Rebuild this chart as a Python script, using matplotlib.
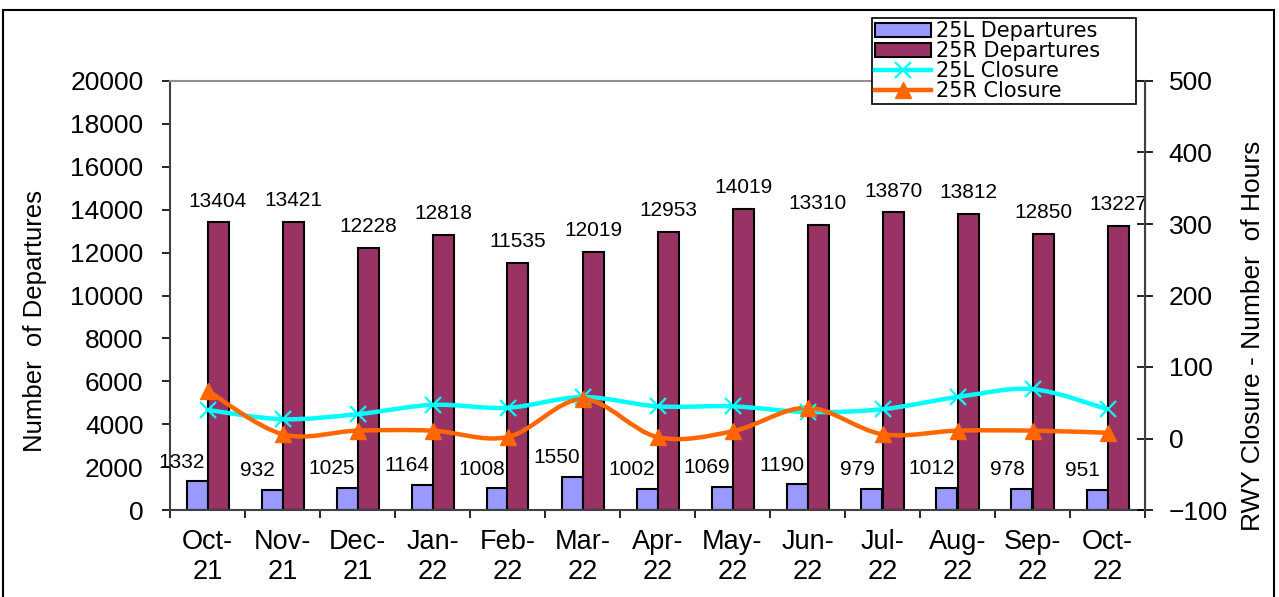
import matplotlib
matplotlib.use("Agg")
import matplotlib.pyplot as plt
import numpy as np
from matplotlib.path import Path
from matplotlib.patches import PathPatch, Patch, Rectangle
from matplotlib.lines import Line2D

plt.rcParams["font.family"] = ["Liberation Sans", "DejaVu Sans"]

months = ["Oct-\n21", "Nov-\n21", "Dec-\n21", "Jan-\n22", "Feb-\n22", "Mar-\n22", "Apr-\n22",
          "May-\n22", "Jun-\n22", "Jul-\n22", "Aug-\n22", "Sep-\n22", "Oct-\n22"]
dep_25l = [1332, 932, 1025, 1164, 1008, 1550, 1002, 1069, 1190, 979, 1012, 978, 951]
dep_25r = [13404, 13421, 12228, 12818, 11535, 12019, 12953, 14019, 13310, 13870, 13812, 12850, 13227]
closure_25l = [40, 27, 34, 47, 43, 58, 45, 45, 37, 41, 58, 69, 41]
closure_25r = [67, 6, 11, 11, 2, 55, 2, 10, 43, 6, 11, 11, 8]

C_25L = "#9999FF"
C_25R = "#993366"
C_CYAN = "#00FFFF"
C_ORANGE = "#FF6600"


def smooth_path(xs, ys):
    # Excel-style smoothed line: cubic bezier through every point
    pts = np.column_stack([xs, ys]).astype(float)
    verts = [pts[0]]
    codes = [Path.MOVETO]
    n = len(pts)
    for i in range(n - 1):
        p0 = pts[max(i - 1, 0)]
        p1 = pts[i]
        p2 = pts[i + 1]
        p3 = pts[min(i + 2, n - 1)]
        c1 = p1 + (p2 - p0) / 6.0
        c2 = p2 - (p3 - p1) / 6.0
        verts += [c1, c2, p2]
        codes += [Path.CURVE4] * 3
    return Path(verts, codes)


fig = plt.figure(figsize=(12.79, 5.97), dpi=100)
ax = fig.add_axes([170 / 1279, 1 - 510 / 597, 975 / 1279, 429 / 597])
ax2 = ax.twinx()

x = np.arange(len(months))
w = 0.28
ax.bar(x - w / 2, dep_25l, w, color=C_25L, edgecolor="black", linewidth=1.5)
ax.bar(x + w / 2, dep_25r, w, color=C_25R, edgecolor="black", linewidth=1.5)

for xi, v in zip(x, dep_25l):
    ax.text(xi - w / 2 - 0.2, v + 900, str(v), ha="center", va="center", fontsize=15)
for xi, v in zip(x, dep_25r):
    ax.text(xi + w / 2, v + 1000, str(v), ha="center", va="center", fontsize=15)

ax.set_xlim(-0.5, len(months) - 0.5)
ax.set_ylim(0, 20000)
ax.set_yticks(np.arange(0, 20001, 2000))
ax.set_xticks(np.arange(-0.5, len(months), 1.0))
ax.set_xticklabels([])
ax.set_xticks(x, minor=True)
ax.set_xticklabels(months, minor=True, fontsize=19.5)
ax.tick_params(axis="x", which="major", direction="out", length=6, width=1.2)
ax.tick_params(axis="x", which="minor", length=0, pad=14)
ax.tick_params(axis="y", direction="out", length=6, width=1.2, labelsize=19, pad=13)
ax.set_ylabel("Number  of Departures", fontsize=18.5)
ax.yaxis.set_label_coords(-0.126, 0.44)

for sp in ["left", "bottom"]:
    ax.spines[sp].set_color("#404040")
    ax.spines[sp].set_linewidth(1.5)
ax.spines["top"].set_color("#909090")
ax.spines["top"].set_linewidth(1.5)

# closures on secondary axis
ax2.add_patch(PathPatch(smooth_path(x, closure_25l), fill=False, edgecolor=C_CYAN,
                        linewidth=3.2, capstyle="round", joinstyle="round"))
ax2.plot(x, closure_25l, linestyle="none", marker="x", markersize=12,
         markeredgewidth=1.6, color=C_CYAN)
ax2.add_patch(PathPatch(smooth_path(x, closure_25r), fill=False, edgecolor=C_ORANGE,
                        linewidth=3.2, capstyle="round", joinstyle="round"))
ax2.plot(x, closure_25r, linestyle="none", marker="^", markersize=11, color=C_ORANGE)

ax2.set_ylim(-100, 500)
ax2.set_yticks(np.arange(-100, 501, 100))
ax2.tick_params(axis="y", direction="inout", length=12, width=1.2, labelsize=19, pad=11)
ax2.set_ylabel("RWY Closure - Number  of Hours", fontsize=19)
ax2.yaxis.set_label_coords(1.098, 0.407)
ax2.spines["right"].set_color("#404040")
ax2.spines["right"].set_linewidth(1.5)
for sp in ["left", "bottom", "top"]:
    ax2.spines[sp].set_visible(False)

handles = [
    Patch(facecolor=C_25L, edgecolor="black", linewidth=1.5),
    Patch(facecolor=C_25R, edgecolor="black", linewidth=1.5),
    Line2D([], [], color=C_CYAN, linewidth=3.2, marker="x", markersize=12, markeredgewidth=1.6),
    Line2D([], [], color=C_ORANGE, linewidth=3.2, marker="^", markersize=11),
]
labels = ["25L Departures", "25R Departures", "25L Closure", "25R Closure"]
leg = fig.legend(handles, labels, loc="upper left",
                 bbox_to_anchor=(872 / 1279, 0.80, 264 / 1279, 1 - 18 / 597 - 0.80),
                 mode="expand", borderaxespad=0, borderpad=0.15, labelspacing=0.0,
                 handlelength=2.7, handletextpad=0.2, fancybox=False, framealpha=1,
                 edgecolor="black", prop={"family": "DejaVu Sans", "size": 15})
leg.get_frame().set_linewidth(1.2)

fig.patches.append(Rectangle((3 / 1279, -0.05), 1271 / 1279, 1.05 - 10 / 597,
                             transform=fig.transFigure, fill=False,
                             edgecolor="black", linewidth=1.5))

fig.savefig("out.png", dpi=100)
